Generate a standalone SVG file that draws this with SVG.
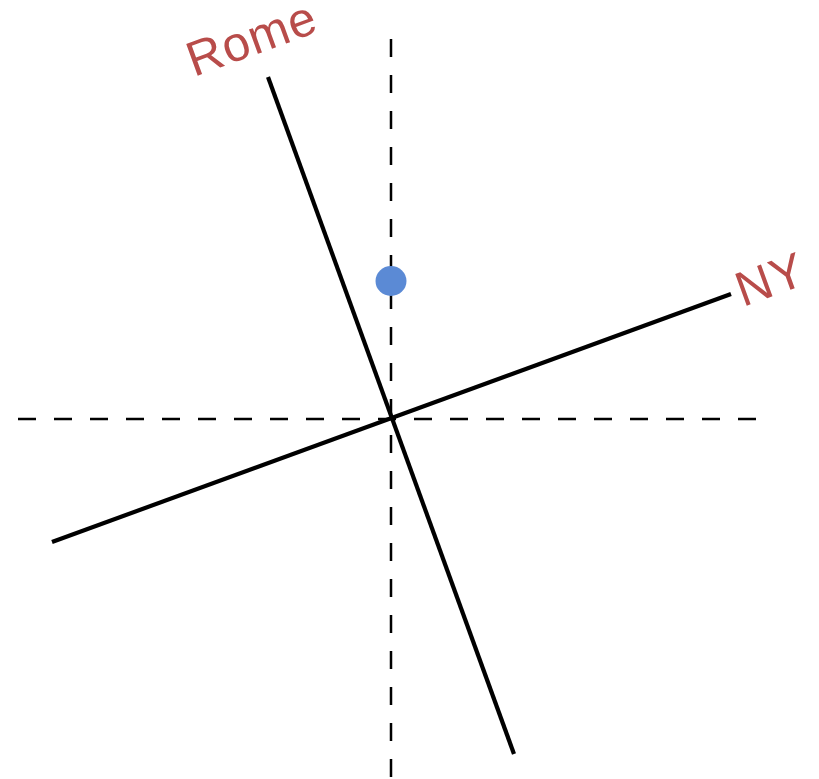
<svg xmlns="http://www.w3.org/2000/svg" width="819" height="779" viewBox="0 0 819 779">
<style>
.axis{stroke:#000;stroke-width:2.5;stroke-dasharray:18 18;fill:none}
.line{stroke:#000;stroke-width:4.2;fill:none;stroke-linecap:butt}
.lbl{font-family:"Liberation Sans",Arial,sans-serif;font-size:49px;fill:#B84C4A;letter-spacing:1px}
</style>
<rect width="819" height="779" fill="#fff"/>
<g id="connectors">
<line class="axis" x1="18" y1="419" x2="760" y2="419"/>
<line class="axis" x1="391" y1="39" x2="391" y2="779"/>
<line class="line" x1="268" y1="77" x2="514" y2="754"/>
<line class="line" x1="52" y1="542" x2="731" y2="294"/>
</g>
<g id="point">
<ellipse cx="391" cy="281" rx="15.5" ry="15" fill="#5B8AD5"/>
</g>
<g id="rome">
<text class="lbl" transform="translate(194,77) rotate(-20)">Rome</text>
</g>
<g id="ny">
<text class="lbl" transform="translate(743,307) rotate(-20)">NY</text>
</g>
</svg>
